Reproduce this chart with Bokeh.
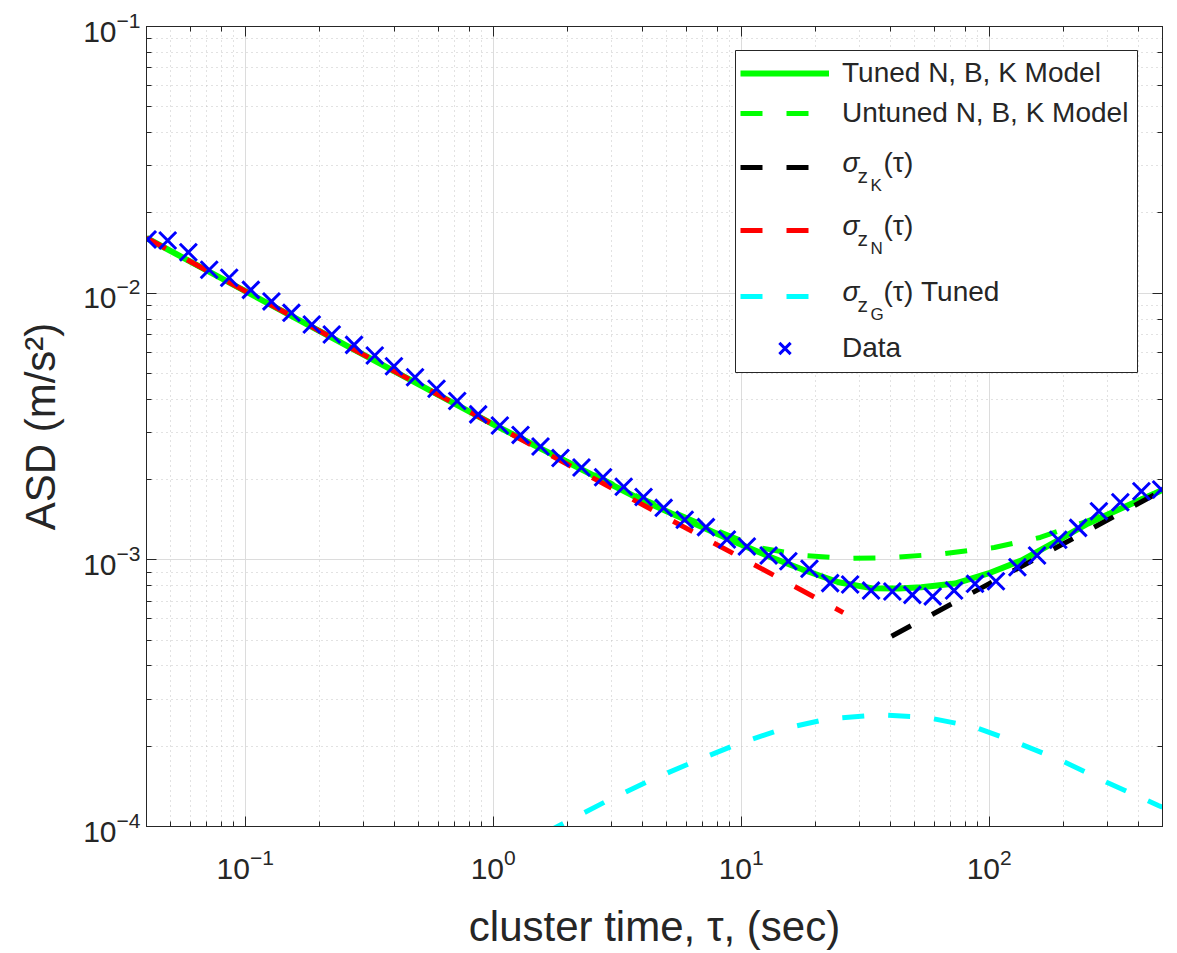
import math
from bokeh.plotting import figure
from bokeh.models import (LogAxis, LogTicker, Range1d, Legend, LegendItem, ColumnDataSource)
from bokeh.core.properties import value
from bokeh.embed import file_html
from bokeh.resources import INLINE

# ---------------- data ----------------
tau_data = [0.0404, 0.0487, 0.059, 0.0716, 0.0862, 0.1054, 0.1276, 0.1536, 0.1856, 0.2234,
            0.2748, 0.333, 0.398, 0.484, 0.591, 0.716, 0.870, 1.064, 1.289, 1.552,
            1.868, 2.27, 2.774, 3.36, 4.04, 4.87, 5.92, 7.21, 8.76, 10.54,
            12.9, 15.5, 18.85, 22.85, 27.5, 33.4, 40.7, 49.0, 59.2, 72.2,
            87.7, 106.5, 130, 156, 190, 228.5, 277, 338, 411, 494]
asd_data = [0.01589, 0.01576, 0.01424, 0.01224, 0.01142, 0.01029, 0.00931, 0.00844, 0.00763, 0.0070,
            0.0064, 0.00584, 0.00532, 0.00484, 0.00438, 0.00394, 0.00351, 0.00319, 0.00294, 0.00266,
            0.00241, 0.00222, 0.00204, 0.00188, 0.00172, 0.001567, 0.001413, 0.001326, 0.001192, 0.001122,
            0.001038, 0.000988, 0.000926, 0.000818, 0.000808, 0.000767, 0.000761, 0.000739, 0.000729, 0.000767,
            0.000813, 0.000831, 0.000938, 0.001038, 0.001189, 0.001318, 0.001522, 0.001644, 0.001808, 0.001835]

tau_tuned = [0.04, 1.0, 3.86, 5.24, 7.17, 9.76, 13.26, 18.12, 24.7, 33.5,
             43.1, 53.3, 72.8, 99.2, 134.7, 184, 250.6, 340, 465, 500]
asd_tuned = [0.0161, 0.00322, 0.001698, 0.001492, 0.001311, 0.001151, 0.00102, 0.000912, 0.000824, 0.000783,
             0.00078, 0.000789, 0.000815, 0.000889, 0.000994, 0.001165, 0.001369, 0.001558, 0.001773, 0.00183]

tau_untuned = [0.04, 1.0, 3.86, 6.73, 11.75, 17.8, 27.1, 41.1, 66.5, 104.8, 160.6, 239, 363, 500]
asd_untuned = [0.0161, 0.00322, 0.00172, 0.001376, 0.001112, 0.001038, 0.001012, 0.00102, 0.001056,
               0.001112, 0.001213, 0.00138, 0.001599, 0.00184]

tau_N = [0.04, 25.8]
asd_N = [0.0161, 0.000634]

tau_K = [40.4, 500]
asd_K = [0.000517, 0.00182]

tau_G = [1.6, 2.083, 2.81, 4.276, 6.38, 9.72, 14.8, 22.5, 35.7, 55.4, 86.1, 128.5, 195.4, 297.6, 481, 500]
asd_G = [9.4e-5, 1.069e-4, 1.233e-4, 1.488e-4, 1.742e-4, 2.042e-4, 2.325e-4, 2.535e-4, 2.624e-4,
         2.57e-4, 2.37e-4, 2.07e-4, 1.768e-4, 1.466e-4, 1.199e-4, 1.18e-4]

legend_labels = ["Tuned N, B, K Model", "Untuned N, B, K Model", " ", " ", " ", "Data"]
sigma_text = "σ"
sub_z = "z"
sub_letters = ["K", "N", "G"]
sub_suffix = ["(τ)", "(τ)", "(τ) Tuned"]

x_label = "cluster time, τ, (sec)"
y_label = "ASD (m/s²)"

X0, X1 = 0.04, 500
Y0, Y1 = 1e-4, 1e-1

# ---------------- figure ----------------
FONT = "Liberation Sans"
AX = "#262626"
FW, FH = 1016, 800
FL, FT = 148, 26   # frame left / top in reference page pixels

p = figure(frame_width=FW, frame_height=FH,
           x_axis_type="log", y_axis_type="log",
           x_range=Range1d(X0, X1), y_range=Range1d(Y0, Y1),
           output_backend="svg", toolbar_location=None,
           min_border_left=146, min_border_right=9, min_border_top=FT, min_border_bottom=0,
           background_fill_color="white", border_fill_color="white")

p.outline_line_color = AX
p.outline_line_width = 1

for ax in (p.xaxis[0], p.yaxis[0]):
    ax.major_tick_in = 10
    ax.major_tick_out = 0
    ax.minor_tick_in = 5
    ax.minor_tick_out = 0
    ax.axis_line_color = AX
    ax.major_tick_line_color = AX
    ax.minor_tick_line_color = AX
    ax.major_label_text_font = FONT
    ax.major_label_text_font_size = "30px"
    ax.major_label_text_color = AX
    ax.axis_label_text_font = FONT
    ax.axis_label_text_font_size = "42px"
    ax.axis_label_text_font_style = "normal"
    ax.axis_label_text_color = AX

p.xaxis[0].major_label_standoff = 22
p.yaxis[0].major_label_standoff = 6
p.xaxis[0].axis_label = x_label
p.yaxis[0].axis_label = y_label
p.xaxis[0].axis_label_standoff = 21
p.yaxis[0].axis_label_standoff = 16

for loc in ("above", "right"):
    a = LogAxis(ticker=LogTicker())
    a.major_tick_in = 10
    a.major_tick_out = 0
    a.minor_tick_in = 5
    a.minor_tick_out = 0
    a.axis_line_color = AX
    a.major_tick_line_color = AX
    a.minor_tick_line_color = AX
    a.major_label_text_font_size = "1px"
    a.major_label_text_alpha = 0
    a.major_label_standoff = 0
    p.add_layout(a, loc)

for g in (p.xgrid[0], p.ygrid[0]):
    g.grid_line_color = "#dcdcdc"
    g.grid_line_width = 1
    g.minor_grid_line_color = "#c4c4c4"
    g.minor_grid_line_dash = "1 4"
    g.minor_grid_line_width = 1

# helpers: reference page pixel -> data coordinate (legend furniture only)
def at_x(page_x):
    l0, l1 = math.log10(X0), math.log10(X1)
    return 10 ** (l0 + (page_x - FL) / FW * (l1 - l0))

def at_y(page_y):
    l0, l1 = math.log10(Y0), math.log10(Y1)
    return 10 ** (l1 - (page_y - FT) / FH * (l1 - l0))

# legend box (white, drawn above the grid)
LB_L, LB_R, LB_T, LB_B = 737, 1139, 50, 372
p.quad(left=[at_x(LB_L)], right=[at_x(LB_R)], top=[at_y(LB_T)], bottom=[at_y(LB_B)],
       fill_color="white", line_color=AX, line_width=1)

# ---------------- glyphs ----------------
DASH = "22 24"
r_tuned = p.line(tau_tuned, asd_tuned, line_color="#00ff00", line_width=6)
r_untuned = p.line(tau_untuned, asd_untuned, line_color="#00ff00", line_width=5, line_dash=DASH)
r_K = p.line(tau_K, asd_K, line_color="#000000", line_width=5, line_dash=DASH)
r_N = p.line(tau_N, asd_N, line_color="#ff0000", line_width=5, line_dash=DASH)
r_G = p.line(tau_G, asd_G, line_color="#00ffff", line_width=5, line_dash=DASH)
r_data = p.scatter(tau_data, asd_data, marker="x", size=24, line_color="#0000ff", line_width=3)

renderers = [r_tuned, r_untuned, r_K, r_N, r_G, r_data]
row_y = [73, 113, 167, 230, 296, 348]   # page y of legend rows
ROW_H = 40
for lab, r, yc in zip(legend_labels, renderers, row_y):
    lg = Legend(items=[LegendItem(label=lab, renderers=[r])],
                location=(742 - FL, FT + FH - (yc + ROW_H / 2)), orientation="vertical")
    lg.label_text_font = FONT
    lg.label_text_font_size = "28px"
    lg.label_text_color = AX
    lg.glyph_width = 89
    lg.glyph_height = ROW_H
    lg.label_height = ROW_H
    lg.spacing = 0
    lg.padding = 0
    lg.margin = 0
    lg.label_standoff = 13
    lg.border_line_color = None
    lg.background_fill_alpha = 0.0
    p.add_layout(lg)

# sigma labels with nested subscripts
tx, ty, tt, ts, tst = [], [], [], [], []
for yc, letter, suffix in zip(row_y[2:5], sub_letters, sub_suffix):
    for px, dy, txt, size, style in ((844, -5, sigma_text, "28px", "italic"),
                                     (859, 8, sub_z, "21px", "normal"),
                                     (872, 18, letter, "17px", "normal"),
                                     (885, -5, suffix, "28px", "normal")):
        tx.append(at_x(px)); ty.append(at_y(yc + dy)); tt.append(txt); ts.append(size); tst.append(style)
src = ColumnDataSource(dict(x=tx, y=ty, text=tt, size=ts, style=tst))
p.text(x="x", y="y", text="text", source=src, text_font=value(FONT), text_font_size="size",
       text_font_style="style", text_color=AX, text_baseline="middle", text_align="left")

open("out.html", "w").write(file_html(p, INLINE))
